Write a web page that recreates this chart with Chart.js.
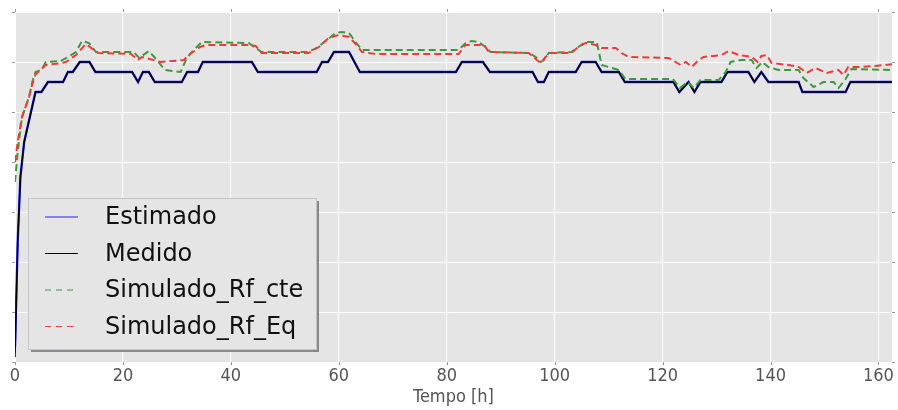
<!DOCTYPE html>
<html lang="pt">
<head>
  <meta charset="UTF-8">
  <title>Tempo [h]</title>
  <script src="https://cdn.jsdelivr.net/npm/chart.js"></script>
  <style>
    body { margin: 0; background: #fff; }
  </style>
</head>
<body>
  <canvas id="grafico" width="898" height="410"></canvas>
  <script>
    // Dados (tempo em horas, valores em unidades do eixo y)
    const medidoT = [0, 0.5, 1, 1.7, 3.8, 4.9, 6.1, 8.9, 9.8, 10.7, 12, 13.8, 14.9, 21.7, 22.8, 23.7, 24.8, 25.9, 30.9, 31.9,
      33.9, 34.8, 43.9, 45, 55.9, 56.9, 58, 59.1, 61.9, 63.9, 81.7, 82.8, 86.7, 88, 95.9, 96.9, 98, 98.9, 103.9, 105,
      107.6, 108.7, 111.9, 113, 122, 123.1, 124.8, 125.9, 127, 130.9, 132, 135.9, 137, 138.3, 139.6, 145.2, 145.9, 153.9, 154.8, 163];
    const medidoY = [0.1, 2.4, 3.7, 4.4, 5.4, 5.4, 5.6, 5.6, 5.8, 5.8, 6.0, 6.0, 5.8, 5.8, 5.6, 5.8, 5.8, 5.6, 5.6, 5.8,
      5.8, 6.0, 6.0, 5.8, 5.8, 6.0, 6.0, 6.2, 6.2, 5.8, 5.8, 6.0, 6.0, 5.8, 5.8, 5.6, 5.6, 5.8, 5.8, 6.0,
      6.0, 5.8, 5.8, 5.6, 5.6, 5.4, 5.6, 5.4, 5.6, 5.6, 5.8, 5.8, 5.6, 5.8, 5.6, 5.6, 5.4, 5.4, 5.6, 5.6];

    const estimadoT = [0, 0.5, 1, 1.7, 3.8, 4.9, 6.1, 8.9, 9.8, 10.7, 12, 13.8, 14.9, 21.7, 22.8, 23.7, 24.8, 25.9, 30.9, 31.9,
      33.9, 34.8, 43.9, 45, 55.9, 56.9, 58, 59.1, 61.9, 63.9, 81.7, 82.8, 86.7, 88, 95.9, 96.9, 98, 98.9, 103.9, 105,
      107.6, 108.7, 111.9, 113, 122, 123.1, 124.8, 125.9, 127, 130.9, 132, 135.9, 137, 138.3, 139.6, 145.2, 145.9, 153.9, 154.8, 163];
    const estimadoY = [0.3, 2.4, 3.7, 4.4, 5.4, 5.4, 5.6, 5.6, 5.8, 5.8, 6.0, 6.0, 5.8, 5.8, 5.6, 5.8, 5.8, 5.6, 5.6, 5.8,
      5.8, 6.0, 6.0, 5.8, 5.8, 6.0, 6.0, 6.2, 6.2, 5.8, 5.8, 6.0, 6.0, 5.8, 5.8, 5.6, 5.6, 5.8, 5.8, 6.0,
      6.0, 5.8, 5.8, 5.6, 5.6, 5.4, 5.6, 5.4, 5.6, 5.6, 5.8, 5.8, 5.6, 5.8, 5.6, 5.6, 5.4, 5.4, 5.6, 5.6];

    const cteT = [0, 0.5, 1.3, 2.6, 3.2, 3.8, 5.0, 5.7, 8.5, 9.8, 11.3, 12.4, 13.7, 15.0, 22.0, 23.0, 24.8, 26.3, 27.8, 30.7,
      31.7, 32.6, 34.6, 43.3, 44.6, 45.7, 54.4, 55.9, 57.8, 59.4, 60.6, 61.9, 63.1, 64.3, 82.2, 83.5, 84.6, 85.9, 87.2, 88.1,
      95.2, 96.5, 97.4, 98.0, 98.9, 103.1, 104.4, 105.7, 107.8, 108.7, 111.9, 113.1, 121.9, 123.2, 124.6, 125.8, 127.0, 130.4, 131.7, 132.6,
      134.6, 136.5, 137.4, 138.5, 139.6, 141.5, 145.2, 146.1, 148.0, 149.8, 151.7, 152.6, 153.9, 155.0, 163];
    const cteY = [3.6, 4.2, 4.9, 5.3, 5.6, 5.8, 5.85, 6.0, 6.02, 6.1, 6.2, 6.42, 6.38, 6.2, 6.2, 6.08, 6.22, 6.04, 5.84, 5.8,
      6.05, 6.18, 6.4, 6.38, 6.28, 6.2, 6.2, 6.28, 6.44, 6.58, 6.6, 6.58, 6.4, 6.24, 6.24, 6.38, 6.42, 6.4, 6.3, 6.2,
      6.18, 6.1, 6.0, 6.04, 6.18, 6.2, 6.3, 6.4, 6.4, 5.94, 5.84, 5.66, 5.66, 5.48, 5.6, 5.48, 5.64, 5.64, 5.8, 6.0,
      6.04, 6.04, 5.88, 6.0, 5.9, 5.84, 5.84, 5.68, 5.5, 5.6, 5.6, 5.48, 5.66, 5.86, 5.84];

    const eqT = [0, 0.5, 1.3, 2.6, 3.2, 3.8, 5.7, 8.7, 9.4, 11.3, 13.1, 15.4, 21.5, 22.8, 23.5, 27.0, 31.3, 32.2, 34.3, 35.4,
      43.3, 44.6, 45.7, 54.4, 56.3, 58.1, 60.0, 61.9, 63.3, 64.3, 66.9, 82.2, 83.5, 86.9, 87.8, 95.2, 96.7, 97.4, 98.3, 99.4,
      103.1, 104.4, 105.7, 107.6, 108.7, 111.3, 112.4, 113.7, 121.1, 122.4, 123.3, 124.3, 125.4, 126.7, 127.6, 130.9, 132.2, 134.1, 136.5, 137.6,
      138.3, 139.3, 140.2, 143.3, 145.2, 146.7, 148.3, 150.4, 152.6, 153.5, 154.4, 156.3, 159.4, 163];
    const eqY = [4.0, 4.4, 4.9, 5.3, 5.55, 5.75, 5.94, 5.98, 6.0, 6.14, 6.36, 6.18, 6.16, 6.04, 6.1, 6.0, 6.04, 6.14, 6.3, 6.34,
      6.34, 6.32, 6.18, 6.18, 6.3, 6.48, 6.54, 6.5, 6.34, 6.2, 6.16, 6.16, 6.34, 6.34, 6.2, 6.18, 6.04, 5.98, 6.1, 6.18,
      6.18, 6.3, 6.38, 6.34, 6.28, 6.28, 6.18, 6.1, 6.08, 6.0, 5.94, 6.0, 5.9, 6.04, 6.1, 6.14, 6.22, 6.14, 6.1, 6.0,
      6.12, 6.14, 5.98, 5.94, 5.9, 5.78, 5.88, 5.78, 5.84, 5.74, 5.9, 5.9, 5.92, 5.96];

    const xTicks = [0, 20, 40, 60, 80, 100, 120, 140, 160];

    const pares = (ts, ys) => ts.map((t, i) => ({ x: t, y: ys[i] }));
    const fonteEixo = '"DejaVu Sans Condensed", "DejaVu Sans", sans-serif';
    const fonteLegenda = '"DejaVu Sans", sans-serif';

    // Fundo cinza da área do gráfico
    const fundoPlugin = {
      id: 'fundo',
      beforeDraw(chart) {
        const { ctx, chartArea: a } = chart;
        ctx.save();
        ctx.fillStyle = '#e5e5e5';
        ctx.fillRect(a.left, a.top, a.right - a.left, a.bottom - a.top);
        ctx.restore();
      },
      afterDraw(chart) {
        // pequenas marcas dos ticks nos quatro lados
        const { ctx, chartArea: a, scales } = chart;
        ctx.save();
        ctx.strokeStyle = '#9a9a9a';
        ctx.lineWidth = 1;
        ctx.beginPath();
        scales.x.ticks.forEach(t => {
          const px = Math.round(scales.x.getPixelForValue(t.value)) + 0.5;
          ctx.moveTo(px, a.bottom); ctx.lineTo(px, a.bottom + 3);
          ctx.moveTo(px, a.top); ctx.lineTo(px, a.top - 3);
        });
        scales.y.ticks.forEach(t => {
          const py = Math.round(scales.y.getPixelForValue(t.value)) + 0.5;
          ctx.moveTo(a.left, py); ctx.lineTo(a.left - 3, py);
          ctx.moveTo(a.right, py); ctx.lineTo(a.right + 3, py);
        });
        ctx.stroke();
        ctx.restore();
      }
    };

    // Legenda em caixa com sombra, no canto inferior esquerdo
    const legendaPlugin = {
      id: 'legendaCaixa',
      afterDraw(chart) {
        const { ctx, chartArea: a } = chart;
        const x = a.left + 13, y = a.bottom - 164, w = 288, h = 151;
        ctx.save();
        ctx.fillStyle = '#8a8a8a';
        ctx.fillRect(x + 3, y + 3, w, h);
        ctx.fillStyle = '#e5e5e5';
        ctx.fillRect(x, y, w, h);
        ctx.strokeStyle = '#c4c4c4';
        ctx.lineWidth = 1;
        ctx.strokeRect(x + 0.5, y + 0.5, w, h);
        ctx.font = '24px ' + fonteLegenda;
        ctx.textBaseline = 'middle';
        chart.data.datasets.forEach((ds, i) => {
          const cy = y + 19 + i * 36.5;
          ctx.strokeStyle = ds.borderColor;
          ctx.lineWidth = 1.2;
          ctx.setLineDash(ds.borderDash ? [6, 5] : []);
          ctx.beginPath();
          ctx.moveTo(x + 17, cy);
          ctx.lineTo(x + 50, cy);
          ctx.stroke();
          ctx.setLineDash([]);
          ctx.fillStyle = '#111';
          ctx.fillText(ds.label, x + 77, cy + 1);
        });
        ctx.restore();
      }
    };

    const ctx = document.getElementById('grafico').getContext('2d');
    new Chart(ctx, {
      type: 'line',
      data: {
        datasets: [
          { label: 'Estimado', data: pares(estimadoT, estimadoY), borderColor: '#2020ff', borderWidth: 2.3, order: 4 },
          { label: 'Medido', data: pares(medidoT, medidoY), borderColor: '#000000', borderWidth: 1.5, order: 3 },
          { label: 'Simulado_Rf_cte', data: pares(cteT, cteY), borderColor: '#3b9a3b', borderWidth: 2, borderDash: [7, 4], order: 2 },
          { label: 'Simulado_Rf_Eq', data: pares(eqT, eqY), borderColor: '#f03a3a', borderWidth: 2, borderDash: [7, 4], order: 1 }
        ]
      },
      options: {
        responsive: false,
        animation: false,
        devicePixelRatio: 1,
        layout: { padding: { top: 12, right: 5, left: 0, bottom: 0 } },
        elements: { point: { radius: 0 }, line: { tension: 0 } },
        plugins: { legend: { display: false }, tooltip: { enabled: false } },
        scales: {
          x: {
            type: 'linear',
            min: 0,
            max: 162.5,
            afterBuildTicks: s => { s.ticks = xTicks.map(v => ({ value: v })); },
            afterFit: s => { s.height = 48; },
            ticks: { color: '#555', font: { family: fonteEixo, size: 18 }, padding: 4, maxRotation: 0 },
            grid: { color: '#ffffff', lineWidth: 1, drawTicks: false },
            border: { display: false },
            title: { display: true, text: 'Tempo [h]', color: '#555', font: { family: fonteEixo, size: 18 }, padding: { top: 0, bottom: 2 } }
          },
          y: {
            min: 0,
            max: 7,
            ticks: { display: false, stepSize: 1 },
            afterFit: s => { s.width = 15; },
            grid: { color: '#ffffff', lineWidth: 1, drawTicks: false },
            border: { display: false }
          }
        }
      },
      plugins: [fundoPlugin, legendaPlugin]
    });
  </script>
</body>
</html>
